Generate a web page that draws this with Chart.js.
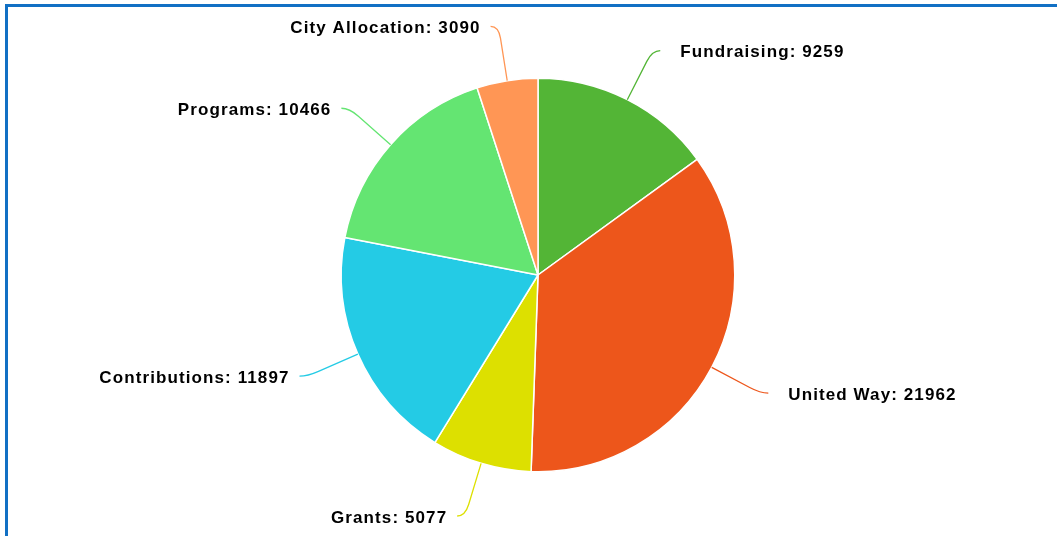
<!DOCTYPE html>
<html>
<head>
<meta charset="utf-8">
<script src="https://cdn.jsdelivr.net/npm/chart.js@4"></script>
<style>
  html, body { margin: 0; padding: 0; background: #fff; overflow: hidden; }
  #wrap { position: absolute; left: 0; top: 0; width: 1057px; height: 536px; }
  #frame { position: absolute; left: 5px; top: 4px; width: 1200px; height: 530px;
           border-top: 3px solid #1170c4; border-left: 3px solid #1170c4;
           border-bottom: 1px solid #8fbde5; pointer-events: none; }
  canvas { position: absolute; left: 0; top: 0; }
</style>
</head>
<body>
<div id="wrap"><canvas id="c" width="1057" height="536"></canvas></div>
<div id="frame"></div>
<script>
const categories = ["Fundraising", "United Way", "Grants", "Contributions", "Programs", "City Allocation"];
const values = [9259, 21962, 5077, 11897, 10466, 3090];
const colors = ["#53b536", "#ed561b", "#dde000", "#24cbe5", "#64e572", "#ff9655"];

const labelPlugin = {
  id: 'outLabels',
  afterDatasetsDraw(chart) {
    const ctx = chart.ctx;
    const meta = chart.getDatasetMeta(0);
    ctx.save();
    meta.data.forEach((arc, i) => {
      const p = arc.getProps(['x', 'y', 'startAngle', 'endAngle', 'outerRadius'], true);
      const a = (p.startAngle + p.endAngle) / 2;
      const cos = Math.cos(a), sin = Math.sin(a);
      const r = p.outerRadius;
      const R = r + 55;
      const right = cos >= 0;
      const S = { x: p.x + cos * r, y: p.y + sin * r };
      const B = { x: p.x + cos * (R - 12), y: p.y + sin * (R - 12) };
      const C = { x: p.x + cos * R, y: p.y + sin * R };
      const E = { x: C.x + (right ? 8 : -8), y: C.y };
      ctx.beginPath();
      ctx.strokeStyle = colors[i];
      ctx.lineWidth = 1.3;
      ctx.moveTo(S.x, S.y);
      ctx.lineTo(B.x, B.y);
      ctx.quadraticCurveTo(C.x, C.y, E.x, E.y);
      ctx.stroke();
      ctx.fillStyle = '#000';
      ctx.font = 'bold 17px "Liberation Sans", Arial, sans-serif';
      ctx.letterSpacing = '1.1px';
      ctx.textBaseline = 'middle';
      const txt = categories[i] + ': ' + values[i];
      if (right) {
        ctx.textAlign = 'left';
        ctx.fillText(txt, E.x + 20, E.y + 2);
      } else {
        ctx.textAlign = 'right';
        ctx.fillText(txt, E.x - 10, E.y + 2);
      }
    });
    ctx.restore();
  }
};

new Chart(document.getElementById('c'), {
  type: 'pie',
  data: {
    labels: categories,
    datasets: [{
      data: values,
      backgroundColor: colors,
      borderColor: '#ffffff',
      borderWidth: 1.5
    }]
  },
  options: {
    responsive: false,
    animation: false,
    layout: { padding: { top: 77.5, bottom: 63.5, left: 20, right: 1 } },
    plugins: {
      legend: { display: false },
      tooltip: { enabled: false }
    }
  },
  plugins: [labelPlugin]
});
</script>
</body>
</html>
